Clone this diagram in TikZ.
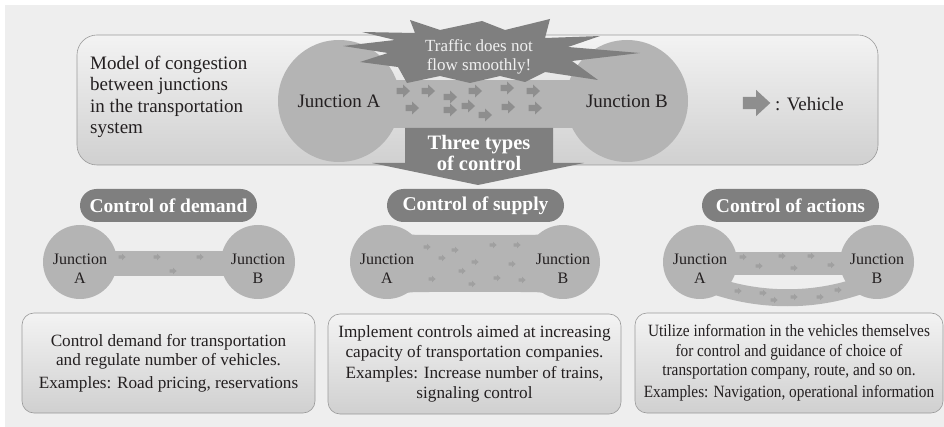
\documentclass[tikz,border=0pt]{standalone}
\usepackage{fontspec}
\setmainfont{Liberation Serif}
\newfontfamily\narrowserif[FakeStretch=0.89]{Liberation Serif}
\definecolor{bgc}{HTML}{EEEEEE}
\definecolor{boxtop}{HTML}{F3F3F3}
\definecolor{boxbot}{HTML}{D0D0D0}
\definecolor{boxline}{HTML}{9A9A9A}
\definecolor{roadc}{HTML}{B4B4B4}
\definecolor{darkc}{HTML}{7F7F7F}
\definecolor{vehc}{HTML}{8E8E8E}
\definecolor{vehlc}{HTML}{A0A0A0}
\definecolor{txtc}{HTML}{231F20}
\begin{document}
\begin{tikzpicture}[x=1pt,y=-1pt,
  veh/.pic={\fill[pic actions] (-6,-2.8) -- (0,-2.8) -- (0,-6) -- (6.5,0) -- (0,6) -- (0,2.8) -- (-6,2.8) -- cycle;},
  bigjunc/.style={circle,fill=roadc,minimum size=122pt,inner sep=0pt,text=txtc,font=\fontsize{19}{22}\selectfont},
  smalljunc/.style={circle,fill=roadc,minimum size=74pt,inner sep=0pt},
  junctext/.style={align=center,text=txtc,inner sep=0pt,font=\fontsize{16}{19}\selectfont},
  pill/.style={fill=darkc,rounded corners=16.5pt,minimum width=177pt,minimum height=33pt,inner sep=0pt,text=white,font=\bfseries\fontsize{19.5}{22}\selectfont},
  infobox/.style={draw=boxline,line width=0.6pt,top color=boxtop,bottom color=boxbot,rounded corners=12pt,minimum height=100pt,inner sep=0pt,align=center,text=txtc,font=\fontsize{17.2}{19.5}\selectfont},
  topveh/.style={fill=vehc,scale=1.08},
  lowveh/.style={fill=vehlc,scale=0.55}
]
\useasboundingbox (0,0) rectangle (944,427);
\fill[bgc] (5,5) rectangle (944,427);

% top model box
\shade[draw=boxline,line width=0.6pt,top color=boxtop,bottom color=boxbot,rounded corners=20pt] (77,35) rectangle (878,165);
\node[anchor=west,align=left,inner sep=0pt,text=txtc,font=\fontsize{19}{21.5}\selectfont] (model) at (90,97)
  {Model of congestion\\between junctions\\in the transportation\\system};

% road and junctions
\fill[roadc] (339,80) rectangle (627,128);
\node[bigjunc] (jA) at (339,101) {Junction A};
\node[bigjunc] (jB) at (627,101) {Junction B};

% vehicles in congestion
\foreach \p in {(403,91),(428,91),(450,97),(475,91),(507,88),(533,91),(412,108),(450,110),(468,106),(485,115),(508,107),(535,108)}
  \pic[topveh] at \p {veh};

% explosion
\fill[darkc] (410,20) -- (440,30) -- (482,21) -- (505,30) -- (550,19) -- (545,38) -- (600,36) -- (568,47)
  -- (640,53) -- (572,61) -- (598,80) -- (545,72) -- (525,82) -- (500,76) -- (470,83) -- (440,76)
  -- (407,83) -- (398,67) -- (360,62) -- (388,53) -- (343,46) -- (395,40) -- (362,32) -- (415,33) -- cycle;
\node[align=center,text=white!94!black,inner sep=0pt,font=\fontsize{17}{19.5}\selectfont] (traffic) at (479,57)
  {Traffic does not\\flow smoothly!};

% down arrow
\fill[darkc] (405,128) -- (553,128) -- (553,163) -- (584,163) -- (478,185) -- (372,163) -- (405,163) -- cycle;
\node[align=center,text=white,inner sep=0pt,font=\bfseries\fontsize{20.5}{20.5}\selectfont] (three) at (479,153)
  {Three types\\of control};

% legend
\pic[fill=vehc,scale=2.2] (legveh) at (756,103) {veh};
\node[anchor=west,inner sep=0pt,text=txtc,font=\fontsize{19}{22}\selectfont] (vehicle) at (775,104) {: Vehicle};

% pills
\node[pill] (pdem) at (168.5,205.5) {Control of demand};
\node[pill] (psup) at (475.5,205.5) {Control of supply};
\node[pill] (pact) at (790.5,205.5) {Control of actions};

% demand
\fill[roadc] (80,251) rectangle (258,276);
\node[smalljunc] (dA) at (80,262) {};
\node[smalljunc] (dB) at (258,262) {};
\node[junctext] (dAt) at (80,269) {Junction\\A};
\node[junctext] (dBt) at (258,269) {Junction\\B};
\foreach \p in {(122,257),(157,257),(200,257),(173,271)}
  \pic[lowveh] at \p {veh};

% supply
\fill[roadc] (387,235) rectangle (563,292);
\fill[roadc] (395,226) .. controls (406,235) .. (430,235) -- (430,250) -- (395,250) -- cycle;
\fill[roadc] (395,298) .. controls (406,292) .. (430,292) -- (430,275) -- (395,275) -- cycle;
\fill[roadc] (555,226) .. controls (544,235) .. (520,235) -- (520,250) -- (555,250) -- cycle;
\fill[roadc] (555,298) .. controls (544,292) .. (520,292) -- (520,275) -- (555,275) -- cycle;
\node[smalljunc] (sA) at (387,262) {};
\node[smalljunc] (sB) at (563,262) {};
\node[junctext] (sAt) at (387,269) {Junction\\A};
\node[junctext] (sBt) at (563,269) {Junction\\B};
\foreach \p in {(427,247),(455,250),(442,258),(493,245),(517,245),(475,262),(512,264),(462,271),(432,279),(472,284),(497,278),(522,280)}
  \pic[lowveh] at \p {veh};

% actions
\fill[roadc] (700,252) rectangle (877,275);
\draw[roadc,line width=17pt] (712,285) .. controls (760,302) and (815,302) .. (862,285);
\node[smalljunc] (aA) at (700,262) {};
\node[smalljunc] (aB) at (877,262) {};
\node[junctext] (aAt) at (700,269) {Junction\\A};
\node[junctext] (aBt) at (877,269) {Junction\\B};
\foreach \p in {(743,257),(782,256),(811,256),(759,266),(794,268),(831,265),(738,291),(763,293),(774,300),(794,297),(820,297),(838,290)}
  \pic[lowveh] at \p {veh};

% info boxes
\node[infobox,minimum width=293pt] (b1) at (168.5,363)
  {Control demand for transportation\\and regulate number of vehicles.\\[3pt]Examples: Road pricing, reservations};
\node[infobox,minimum width=293pt] (b2) at (474.5,364)
  {Implement controls aimed at increasing\\capacity of transportation companies.\\[2pt]Examples: Increase number of trains,\\signaling control};
\node[infobox,minimum width=308pt,font=\narrowserif\fontsize{17.2}{19.5}\selectfont] (b3) at (789,363)
  {Utilize information in the vehicles themselves\\for control and guidance of choice of\\transportation company, route, and so on.\\[2pt]Examples: Navigation, operational information};
\end{tikzpicture}
\end{document}
